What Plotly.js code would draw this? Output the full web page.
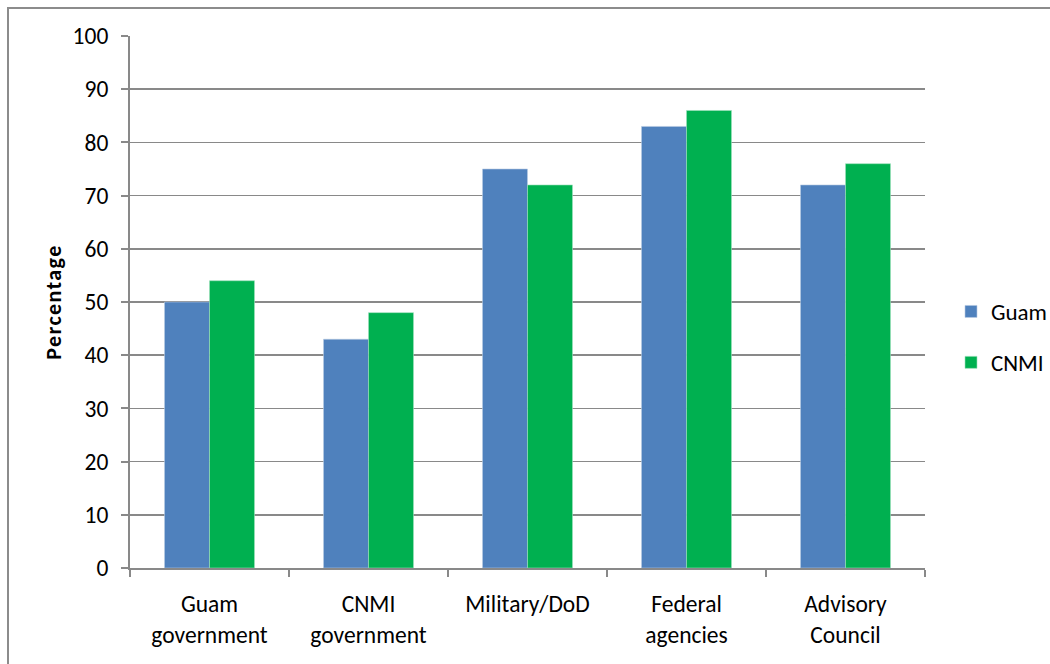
<!DOCTYPE html>
<html>
<head>
<meta charset="utf-8">
<script src="https://cdn.plot.ly/plotly-3.0.1.min.js"></script>
<style>
html,body{margin:0;padding:0;background:#fff;}
#chart{width:1050px;height:664px;}
#chart .ytitle{letter-spacing:1.4px;}
</style>
</head>
<body>
<div id="chart"></div>
<script>
const categories = ["Guam<br>government", "CNMI<br>government", "Military/DoD", "Federal<br>agencies", "Advisory<br>Council"];
const guamValues = [50, 43, 75, 83, 72];
const cnmiValues = [54, 48, 72, 86, 76];
const yTickValues = [0, 10, 20, 30, 40, 50, 60, 70, 80, 90, 100];

const FONT = "Carlito, Lato, 'Open Sans', sans-serif";
const GRID = "#898989";

const traces = [
  {type: "bar", name: "Guam", x: categories, y: guamValues,
   marker: {color: "#4F81BD", line: {color: "#b9cbe3", width: 0.6}}, legendgroup: "a"},
  {type: "bar", name: "CNMI", x: categories, y: cnmiValues,
   marker: {color: "#00B050", line: {color: "#9fe0bd", width: 0.6}}, legendgroup: "b"}
];

const L = 130, R = 125, T = 36, B = 96;
const W = 1050 - L - R, H = 664 - T - B;
const px = v => (v - L) / W;
const py = v => (664 - B - v) / H;

const layout = {
  width: 1050, height: 664,
  margin: {l: L, r: R, t: T, b: B, autoexpand: false},
  paper_bgcolor: "#fff", plot_bgcolor: "#fff",
  font: {family: FONT, size: 23, color: "#000"},
  barmode: "group",
  bargap: 0.434, bargroupgap: 0,
  showlegend: true,
  legend: {x: px(951), y: py(337), xanchor: "left", yanchor: "middle",
           font: {family: FONT, size: 23, color: "#000"}, tracegroupgap: 18,
           itemwidth: 30,
           bgcolor: "rgba(0,0,0,0)"},
  xaxis: {
    showgrid: false, showline: true, linecolor: GRID, linewidth: 2,
    ticks: "outside", tickson: "boundaries", ticklen: 7, tickcolor: GRID, tickwidth: 2,
    ticklabelstandoff: 14,
    tickfont: {family: FONT, size: 23.5, color: "#000"},
    fixedrange: true
  },
  yaxis: {
    range: [0, 100], tickvals: yTickValues, ticktext: yTickValues.map(String),
    showgrid: true, gridcolor: GRID, gridwidth: 1.6,
    showline: true, linecolor: GRID, linewidth: 2,
    ticks: "outside", ticklen: 7, tickcolor: GRID, tickwidth: 2,
    ticklabelstandoff: 8,
    zeroline: false,
    tickfont: {family: FONT, size: 23.5, color: "#000"},
    title: {text: "<b>Percentage</b>", font: {family: FONT, size: 22, color: "#000"}, standoff: 5},
    fixedrange: true
  },
  shapes: [
    {type: "rect", xref: "paper", yref: "paper",
     x0: px(8), x1: px(1070), y0: py(690), y1: py(8),
     line: {color: "#8c8c8c", width: 2}, fillcolor: "rgba(0,0,0,0)", layer: "below"}
  ]
};

Plotly.newPlot("chart", traces, layout, {displayModeBar: false, staticPlot: true});
</script>
</body>
</html>
